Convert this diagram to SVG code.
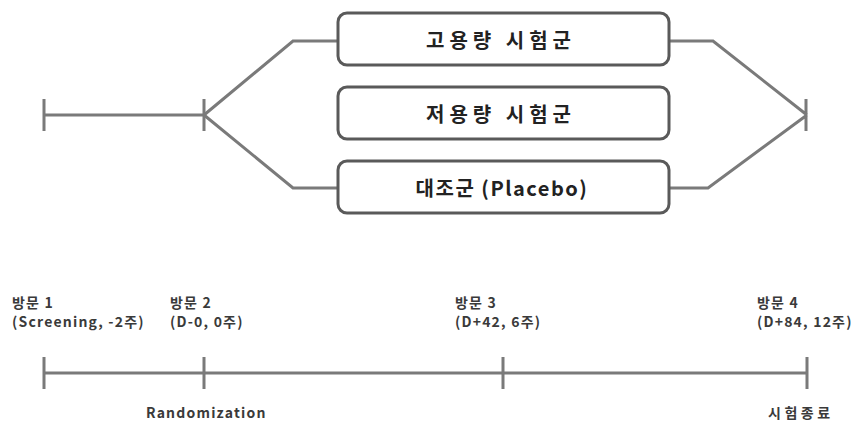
<svg xmlns="http://www.w3.org/2000/svg" width="858" height="428" viewBox="0 0 858 428">
<style>
.ln{stroke:#7a7a7a;stroke-width:3;fill:none;stroke-linejoin:miter}
.box{fill:#fff;stroke:#5a5a5a;stroke-width:3}
.bt{font-family:"Noto Sans CJK KR","Liberation Sans",sans-serif;font-size:20px;font-weight:bold;fill:#222;text-anchor:middle;letter-spacing:5px}
.lb{font-family:"Noto Sans CJK KR","Liberation Sans",sans-serif;font-size:14px;font-weight:bold;fill:#3a3a3a;letter-spacing:1.2px}
</style>
<rect width="858" height="428" fill="#fff"/>
<g id="connectors">
<path class="ln" d="M44,115 H204 M44,99 V131 M204,99 V131"/>
<path class="ln" d="M204,115 L293,41 H338 M204,115 L293,188 H338"/>
<path class="ln" d="M669,41 H713 L807,115 M669,188 H708 L807,115 M806,99 V131"/>
<path class="ln" d="M44,373 H807 M44,357 V389 M204,357 V389 M503,357 V389 M807,357 V389"/>
</g>
<g id="high"><rect class="box" x="338" y="13" width="331" height="52" rx="9"/><text class="bt" x="501" y="48">고용량 시험군</text></g>
<g id="low"><rect class="box" x="338" y="87" width="331" height="52" rx="9"/><text class="bt" x="501" y="122">저용량 시험군</text></g>
<g id="placebo"><rect class="box" x="338" y="161" width="331" height="52" rx="9"/><text class="bt" x="502" y="196" style="letter-spacing:1.5px">대조군 (Placebo)</text></g>
<g id="visit1"><text class="lb" x="12" y="308">방문 1</text><text class="lb" x="12" y="327">(Screening, -2주)</text></g>
<g id="visit2"><text class="lb" x="170" y="308">방문 2</text><text class="lb" x="170" y="327">(D-0, 0주)</text></g>
<g id="visit3"><text class="lb" x="455" y="308">방문 3</text><text class="lb" x="455" y="327">(D+42, 6주)</text></g>
<g id="visit4"><text class="lb" x="757" y="308">방문 4</text><text class="lb" x="757" y="327">(D+84, 12주)</text></g>
<g id="randomization"><text class="lb" x="146" y="418">Randomization</text></g>
<g id="end"><text class="lb" x="768" y="418" style="letter-spacing:3.5px">시험종료</text></g>
</svg>
